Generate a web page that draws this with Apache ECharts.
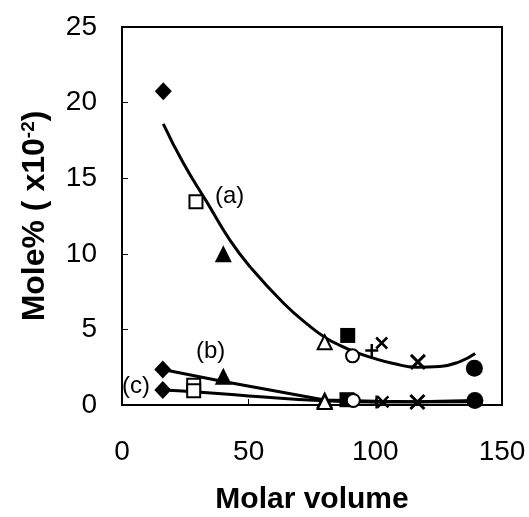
<!DOCTYPE html>
<html>
<head>
<meta charset="utf-8">
<script src="https://cdn.jsdelivr.net/npm/echarts@6/dist/echarts.min.js"></script>
<style>html,body{margin:0;padding:0;background:#fff}#c{width:529px;height:517px}</style>
</head>
<body>
<div id="c"></div>
<script>
// Trend curve (a)
const curveA = [[16.3,18.6],[24.2,16.0],[33.4,13.45],[42.6,10.9],[50.5,9.15],[63.7,6.75],[74.2,5.2],[80.8,4.4],[86,3.95],[91.3,3.55],[99.2,3.1],[107.1,2.75],[116.3,2.5],[125.5,2.55],[133.4,2.87],[139.4,3.4]];
// Lines (b) and (c)
const lineB = [[16.1,2.35],[40,1.55],[80,0.33],[100,0.25],[116.6,0.22],[139.3,0.3]];
const lineC = [[16.1,0.99],[28.3,0.88],[50,0.6],[80,0.28],[100,0.2],[139.3,0.22]];
// Marker groups (x = molar volume, y = mole%)
const filledDiamond = [[16.3,20.75],[16.1,2.35],[16.1,0.99]];
const openSquare = [[29.2,13.45],[28.3,1.3],[28.3,0.95]];
const filledTriangle = [[40,10.0],[40,1.9]];
const openTriangle = [[80,4.15],[80,0.3],[80,0.2]];
const filledSquare = [[89.1,4.6],[88.8,0.35]];
const openCircle = [[91,3.25],[91.3,0.3]];
const plusMark = [[98.6,3.6],[100.5,0.2]];
const smallX = [[102.5,4.1],[103,0.2]];
const bigX = [[116.8,2.85],[116.6,0.2]];
const filledCircle = [[139.1,2.43],[139.3,0.3]];
const xTicks = [0,50,100,150];
const yTicks = [0,5,10,15,20,25];
const curveLabels = ['(a)','(b)','(c)'];

const FONT = 'Liberation Sans';
const chart = echarts.init(document.getElementById('c'), null, {renderer:'canvas'});

function scat(data, symbol, size, filled, extra) {
  return Object.assign({
    type:'scatter', data:data, symbol:symbol, symbolSize:size, z:5,
    itemStyle: filled ? {color:'#000', opacity:1} : {color:'#fff', borderColor:'#000', borderWidth:2, opacity:1},
    emphasis:{disabled:true}
  }, extra||{});
}
const xPath = 'path://M0,0L10,10M10,0L0,10';
const plusPath = 'path://M5,0L5,10M0,5L10,5';
const strokeOnly = w => ({itemStyle:{color:'none', borderColor:'#000', borderWidth:w, opacity:1}});

chart.setOption({
  animation:false,
  backgroundColor:'#fff',
  grid:{left:122, right:27, top:27, bottom:112, containLabel:false, outerBoundsMode:'none', show:true, borderColor:'#000', borderWidth:2, backgroundColor:'transparent'},
  xAxis:{
    type:'value', min:0, max:150, interval:50,
    name:'Molar volume', nameLocation:'middle', nameGap:80, nameMoveOverlap:false,
    nameTextStyle:{fontFamily:FONT, fontSize:30, fontWeight:'bold', color:'#000'},
    axisLine:{show:false}, splitLine:{show:false},
    axisTick:{show:true, inside:true, length:6, lineStyle:{color:'#000', width:1}},
    axisLabel:{fontFamily:FONT, fontSize:28, color:'#000', margin:33, formatter:v=>xTicks.includes(v)?String(v):''}
  },
  yAxis:{
    type:'value', min:0, max:25, interval:5,
    name:'{t|Mole% ( x10}{s|-2}{t|)}', nameLocation:'middle', nameGap:70, nameRotate:90, nameMoveOverlap:false,
    nameTextStyle:{rich:{t:{fontFamily:FONT, fontSize:32, fontWeight:'bold', color:'#000'}, s:{fontFamily:FONT, fontSize:19, fontWeight:'bold', color:'#000', verticalAlign:'top', padding:[0,0,14,0]}}},
    axisLine:{show:false}, splitLine:{show:false},
    axisTick:{show:true, inside:true, length:6, lineStyle:{color:'#000', width:1}},
    axisLabel:{fontFamily:FONT, fontSize:28, color:'#000', margin:25, formatter:v=>yTicks.includes(v)?String(v):''}
  },
  series:[
    {type:'line', data:curveA, smooth:true, showSymbol:false, lineStyle:{color:'#000', width:3}, z:3},
    {type:'line', data:lineB, smooth:false, showSymbol:false, lineStyle:{color:'#000', width:3}, z:3},
    {type:'line', data:lineC, smooth:true, showSymbol:false, lineStyle:{color:'#000', width:3}, z:3},
    scat(filledDiamond,'diamond',[17,18],true),
    scat(openSquare,'rect',13,false),
    scat(filledTriangle,'triangle',17,true),
    scat(openTriangle,'triangle',14,false),
    scat(filledSquare,'rect',15,true),
    scat(openCircle,'circle',13,false),
    scat(plusMark,plusPath,13,false,strokeOnly(2.5)),
    scat(smallX,xPath,11,false,strokeOnly(2.5)),
    scat(bigX,xPath,14,false,strokeOnly(3)),
    scat(filledCircle,'circle',17,true)
  ],
  graphic:[
    {type:'text', left:215, top:184, style:{text:curveLabels[0], font:'24px "Liberation Sans"', fill:'#000'}},
    {type:'text', left:196, top:339, style:{text:curveLabels[1], font:'24px "Liberation Sans"', fill:'#000'}},
    {type:'text', left:122, top:374, style:{text:curveLabels[2], font:'24px "Liberation Sans"', fill:'#000'}}
  ]
});
</script>
</body>
</html>
